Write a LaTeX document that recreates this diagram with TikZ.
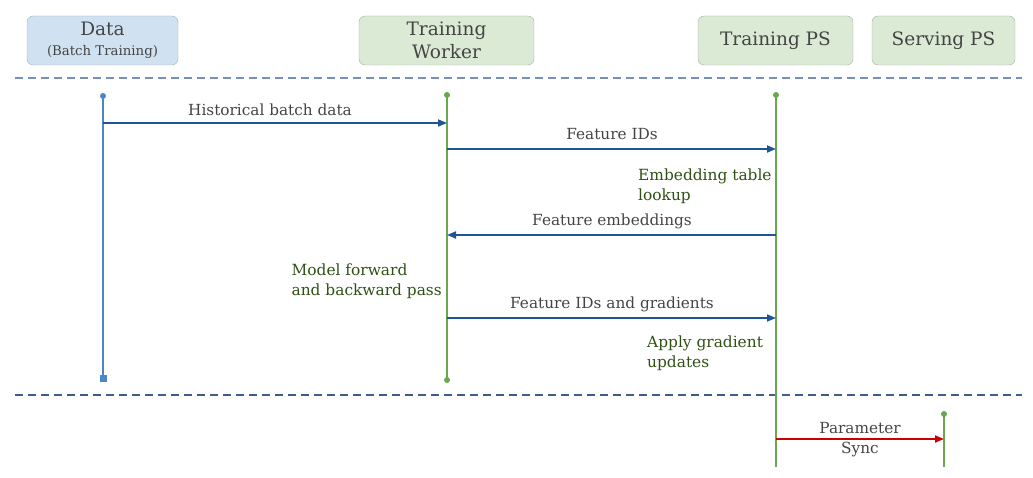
\documentclass[tikz,border=0pt]{standalone}
\usepackage{fontspec}
\setmainfont{DejaVu Serif}
\usetikzlibrary{arrows.meta,calc}
\definecolor{bluefill}{HTML}{D0E1F2}
\definecolor{greenfill}{HTML}{DAEAD4}
\definecolor{boxborder}{HTML}{A8B0A8}
\definecolor{dashtop}{HTML}{7590BE}
\definecolor{dashbot}{HTML}{3E5C8E}
\definecolor{lifeblue}{HTML}{4A86C8}
\definecolor{lifegreen}{HTML}{6AA84F}
\definecolor{msgblue}{HTML}{1F5596}
\definecolor{msgred}{HTML}{CC0000}
\definecolor{txtgray}{HTML}{444444}
\definecolor{notegreen}{HTML}{2F5015}
\tikzset{
  actor/.style={draw=boxborder, rounded corners=6pt, minimum height=49pt, text=txtgray, align=center, font=\fontsize{18.5}{23}\selectfont, inner sep=0pt},
  sep/.style={dashed, dash pattern=on 8pt off 5pt, line width=1.2pt},
  lifeb/.style={draw=lifeblue, line width=2pt},
  lifeg/.style={draw=lifegreen, line width=2pt},
  msg/.style={draw=msgblue, line width=1.8pt, -{Triangle[length=9pt,width=7pt]}},
  rmsg/.style={draw=msgred, line width=1.8pt, -{Triangle[length=9pt,width=7pt]}},
  lbl/.style={text=txtgray, font=\fontsize{15.3}{20}\selectfont, inner sep=0pt},
  note/.style={text=notegreen, align=left, font=\fontsize{15.4}{20}\selectfont, inner sep=0pt},
}
\begin{document}
\begin{tikzpicture}[x=1pt,y=-1pt]
\useasboundingbox (0,0) rectangle (1033,478);
% actors
\node[actor, fill=bluefill, minimum width=151pt] (data) at (102.5,40.5) {Data\\[-3pt]{\fontsize{13.3}{15}\selectfont (Batch Training)}};
\node[actor, fill=greenfill, minimum width=175pt] (worker) at (446.5,40.5) {Training\\Worker};
\node[actor, fill=greenfill, minimum width=155pt] (tps) at (775.5,40.5) {Training PS};
\node[actor, fill=greenfill, minimum width=143pt] (sps) at (943.5,40.5) {Serving PS};
% separators
\coordinate (s1a) at (15,78); \coordinate (s1b) at (1022,78);
\coordinate (s2a) at (15,395); \coordinate (s2b) at (1022,395);
\draw[sep, draw=dashtop] (s1a) -- (s1b);
\draw[sep, draw=dashbot] (s2a) -- (s2b);
% lifelines
\coordinate (dtop) at (103,96); \coordinate (dbot) at (103,378);
\coordinate (wtop) at (447,95); \coordinate (wbot) at (447,380);
\coordinate (ttop) at (776,95); \coordinate (tbot) at (776,467);
\coordinate (stop) at (944,414); \coordinate (sbot) at (944,467);
\draw[lifeb] (dtop) -- (dbot);
\fill[lifeblue] (dtop) circle (3pt);
\fill[lifeblue] ($(dbot)+(-3.5,-3.5)$) rectangle ++(7,7);
\draw[lifeg] (wtop) -- (wbot);
\fill[lifegreen] (wtop) circle (3pt) (wbot) circle (3pt);
\draw[lifeg] (ttop) -- (tbot);
\fill[lifegreen] (ttop) circle (3pt);
\draw[lifeg] (stop) -- (sbot);
\fill[lifegreen] (stop) circle (3pt);
% messages
\coordinate (m1a) at (103,123); \coordinate (m1b) at (447,123);
\draw[msg] (m1a) -- (m1b);
\node[lbl] (l1) at (270,110) {Historical batch data};
\coordinate (m2a) at (447,149); \coordinate (m2b) at (776,149);
\draw[msg] (m2a) -- (m2b);
\node[lbl] (l2) at (612,134) {Feature IDs};
\node[note, anchor=north west] (n1) at (638,169) {Embedding table\\lookup};
\coordinate (m3a) at (776,235); \coordinate (m3b) at (447,235);
\draw[msg] (m3a) -- (m3b);
\node[lbl] (l3) at (612,221) {Feature embeddings};
\node[note, anchor=north east] (n2) at (442,264) {Model forward\\and backward pass};
\coordinate (m4a) at (447,318); \coordinate (m4b) at (776,318);
\draw[msg] (m4a) -- (m4b);
\node[lbl] (l4) at (612,304) {Feature IDs and gradients};
\node[note, anchor=north west] (n3) at (647,336) {Apply gradient\\updates};
\coordinate (m5a) at (776,439); \coordinate (m5b) at (944,439);
\draw[rmsg] (m5a) -- (m5b);
\node[lbl, align=center] (l5) at (860,439.5) {Parameter\\Sync};
\end{tikzpicture}
\end{document}
